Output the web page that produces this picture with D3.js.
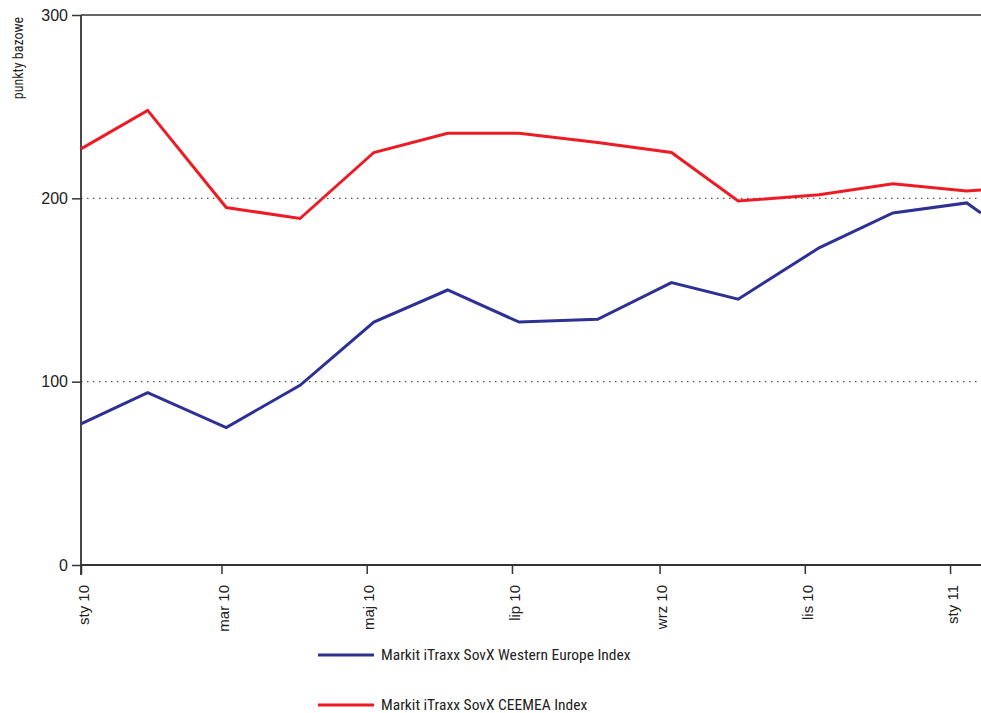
<!DOCTYPE html>
<html><head><meta charset="utf-8">
<script src="https://cdn.jsdelivr.net/npm/d3@7"></script>
<style>
body{margin:0;background:#fff;}
text{font-family:"Liberation Sans Narrow","Roboto Condensed","Arial Narrow","Liberation Sans",sans-serif;fill:#222;}
</style></head>
<body><svg id="c" width="981" height="713"></svg>
<script>
const dates = ["2010-01-01","2010-01-29","2010-03-03","2010-04-03","2010-05-04","2010-06-04","2010-07-04","2010-08-06","2010-09-06","2010-10-04","2010-11-07","2010-12-08","2011-01-08","2011-01-14"];
const westernEurope = [77,94,75,98,132.5,150,132.5,134,154,145,173,192,197.5,192];
const ceemea = [227,248,195,189,225,235.5,235.5,230.5,225,198.5,202,208,204,204.5];
const seriesNames = ["Markit iTraxx SovX Western Europe Index","Markit iTraxx SovX CEEMEA Index"];
const seriesColors = ["#2e3192","#ed1c24"];
const tickDates = ["2010-01-01","2010-03-01","2010-05-01","2010-07-01","2010-09-01","2010-11-01","2011-01-01"];
const tickLabels = ["sty 10","mar 10","maj 10","lip 10","wrz 10","lis 10","sty 11"];
const yTicks = [0,100,200,300];
const yTitle = "punkty bazowe";

const parse = d3.utcParse("%Y-%m-%d");
const svg = d3.select("#c");
const mL=81, mR=981, mT=15, mB=565;
const x = d3.scaleUtc().domain([parse("2010-01-01"), parse("2011-01-14")]).range([mL, mR]);
const y = d3.scaleLinear().domain([0,300]).range([mB, mT]);

// gridlines
svg.append("g").selectAll("line").data([100,200]).join("line")
  .attr("x1",mL).attr("x2",mR).attr("y1",d=>y(d)).attr("y2",d=>y(d))
  .attr("stroke","#555").attr("stroke-width",1.2).attr("stroke-dasharray","1.5,4.5");
svg.append("line").attr("x1",mL).attr("x2",mR).attr("y1",y(300)).attr("y2",y(300))
  .attr("stroke","#333").attr("stroke-width",1.5);

// y axis
const ya = svg.append("g").attr("transform",`translate(${mL},0)`)
  .call(d3.axisLeft(y).tickValues(yTicks).tickSize(9).tickPadding(4).tickFormat(d3.format("d")));
ya.select(".domain").remove();
ya.selectAll(".tick line").attr("stroke","#333").attr("stroke-width",1.5);
ya.selectAll(".tick text").attr("font-size",16).attr("fill","#222")
  .style("font-family",'"Liberation Sans Narrow","Arial Narrow",sans-serif');
svg.append("line").attr("x1",mL).attr("x2",mL).attr("y1",mT).attr("y2",mB+10)
  .attr("stroke","#333").attr("stroke-width",1.8);

// x axis
const xa = svg.append("g").attr("transform",`translate(0,${mB})`)
  .call(d3.axisBottom(x).tickValues(tickDates.map(parse)).tickSize(9)
    .tickFormat((d,i)=>tickLabels[i]));
xa.select(".domain").remove();
xa.selectAll(".tick line").attr("stroke","#333").attr("stroke-width",1.5);
xa.selectAll(".tick text").attr("font-size",15).attr("fill","#222")
  .attr("transform","rotate(-90)").attr("text-anchor","end")
  .attr("x",-20).attr("y",2).attr("dy","0.35em")
  .style("font-family",'"Liberation Sans Narrow","Arial Narrow",sans-serif');
svg.append("line").attr("x1",mL).attr("x2",mR).attr("y1",mB).attr("y2",mB)
  .attr("stroke","#333").attr("stroke-width",2);

// y title
svg.append("text").attr("transform",`translate(23,58) rotate(-90)`)
  .attr("text-anchor","middle").attr("font-size",14).text(yTitle);

// lines
const line = d3.line().x((d,i)=>x(parse(dates[i]))).y(d=>y(d));
[westernEurope, ceemea].forEach((s,k)=>{
  svg.append("path").datum(s).attr("d",line).attr("fill","none")
    .attr("stroke",seriesColors[k]).attr("stroke-width",3).attr("stroke-linejoin","miter");
});

// legend
const lg = svg.append("g");
seriesNames.forEach((n,k)=>{
  const yy = 655 + k*50;
  lg.append("line").attr("x1",318).attr("x2",374).attr("y1",yy).attr("y2",yy)
    .attr("stroke",seriesColors[k]).attr("stroke-width",3);
  lg.append("text").attr("x",381).attr("y",yy).attr("dy","0.35em").attr("font-size",15.5).text(n);
});
</script></body></html>
